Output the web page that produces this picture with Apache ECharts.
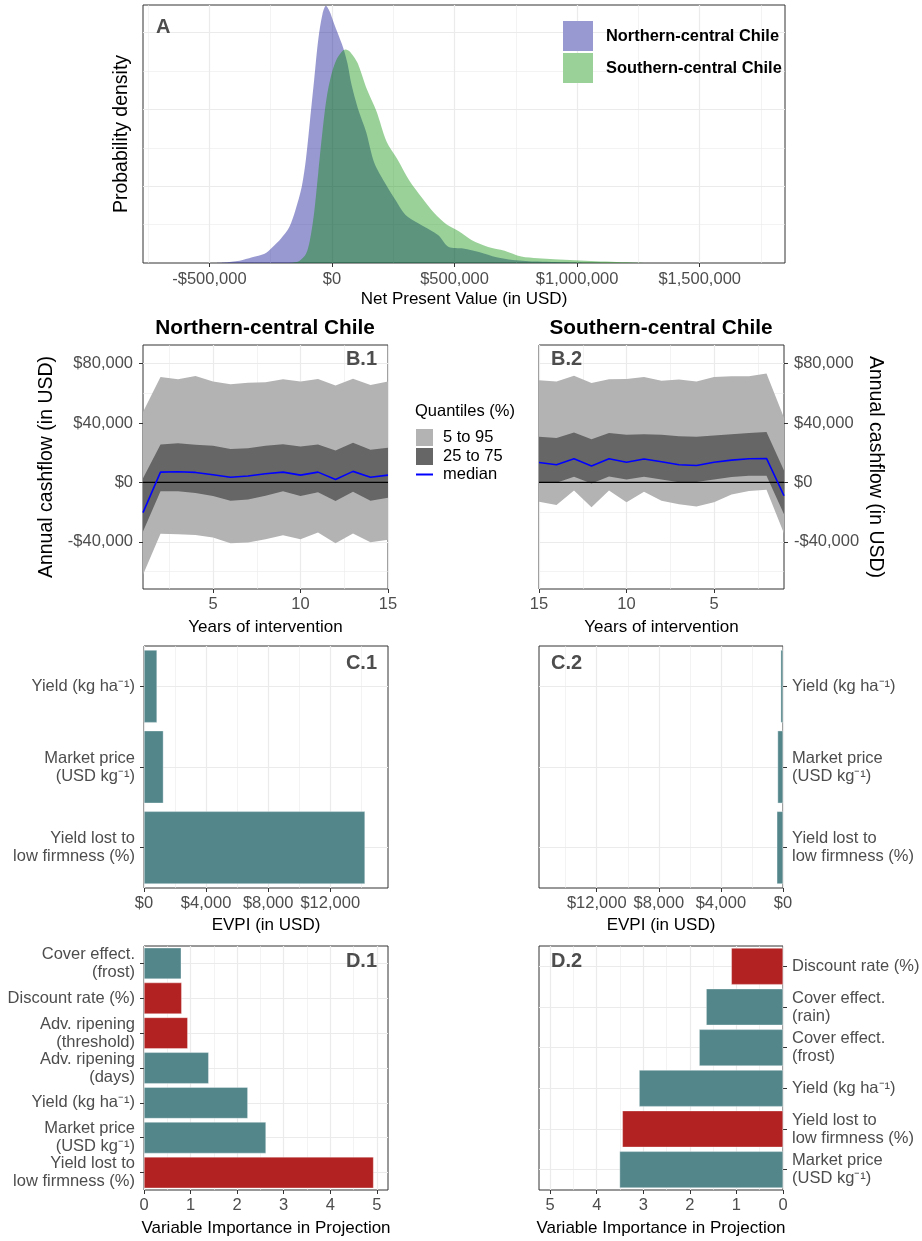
<!DOCTYPE html>
<html><head><meta charset="utf-8">
<script src="https://cdn.jsdelivr.net/npm/echarts@6/dist/echarts.min.js"></script>
<style>html,body{margin:0;padding:0;background:#fff}#c{width:922px;height:1241px}</style>
</head><body><div id="c"></div>
<script>
// ---------------- DATA ----------------
// Panel A: NPV density (x in USD, density in 1e-6 per USD)
const npvNorthX = [-470000,-444000,-377000,-326000,-275000,-242000,-208000,-174000,-149000,-123000,-106000,-90000,-73000,-56000,-39000,-25000,-10000,5000,20000,46000,63000,79000,105000,139000,172000,215000,257000,299000,350000,400000,434000,476000,535000,603000,671000,738000,840000,991000,1100000];
const npvNorthDens = [0,0.005,0.03,0.075,0.12,0.21,0.32,0.47,0.69,1.0,1.36,1.85,2.38,2.91,3.24,3.35,3.28,3.15,3.02,2.80,2.60,2.33,2.02,1.71,1.31,1.05,0.83,0.63,0.52,0.43,0.36,0.21,0.19,0.14,0.075,0.04,0.018,0.005,0];
const npvSouthX = [-170000,-157000,-132000,-106000,-90000,-73000,-56000,-39000,-22000,-2000,20000,46000,57000,79000,105000,139000,181000,223000,265000,316000,367000,417000,468000,519000,569000,637000,704000,772000,840000,907000,991000,1076000,1160000,1245000,1300000];
const npvSouthDens = [0,0.005,0.03,0.12,0.30,0.65,1.18,1.71,2.15,2.46,2.66,2.77,2.78,2.73,2.60,2.29,1.98,1.58,1.36,1.07,0.85,0.65,0.50,0.41,0.30,0.21,0.16,0.084,0.062,0.049,0.035,0.022,0.013,0.004,0];
const regionNames = ['Northern-central Chile','Southern-central Chile'];

// Panel B: annual cashflow quantiles by year of intervention
const years = [1,2,3,4,5,6,7,8,9,10,11,12,13,14,15];
const northP95 = [47400,70900,69400,71600,68000,66000,67100,67400,69400,68000,69600,65300,69800,65600,68000];
const northP75 = [2700,25500,26400,25300,24600,22400,23000,24600,25700,24200,25500,21500,26600,21900,23300];
const northMed = [-20400,6900,7200,6700,5100,3400,4300,5800,6900,4900,6900,2000,7400,3400,4900];
const northP25 = [-33100,-6000,-6000,-7200,-9200,-12300,-11600,-9000,-6000,-9200,-6700,-12500,-6300,-12300,-10300];
const northP5  = [-62200,-34600,-34900,-35400,-37200,-41000,-40500,-38300,-35600,-38300,-33800,-41000,-34500,-40300,-38700];
const southP95 = [43500,73300,71400,71400,70900,68000,69200,68500,70900,69600,69400,66900,71800,68000,68700];
const southP75 = [8000,33900,33300,32400,31600,30700,31100,32000,32400,32000,33300,29100,33600,29800,30700];
const southMed = [-9000,16100,15900,15000,13600,11400,11900,13900,15700,13600,15900,11000,15900,11900,13400];
const southP25 = [-21500,4500,4500,3600,2000,200,0,2000,3800,2000,4000,-700,3800,-200,0];
const southP5  = [-34500,-5000,-5800,-8100,-13400,-16300,-14800,-12300,-6300,-13400,-5400,-16800,-5400,-15200,-13000];
const quantileNames = ['5 to 95','25 to 75','median'];

// Panel C: EVPI (USD)
const evpiVars = ['Yield (kg ha\u207B\u00B9)','Market price\n(USD kg\u207B\u00B9)','Yield lost to\nlow firmness (%)'];
const evpiNorth = [840,1250,14240];
const evpiSouth = [150,350,400];

// Panel D: VIP scores and coefficient sign (+1 positive, -1 negative)
const vipNorthVars = ['Cover effect.\n(frost)','Discount rate (%)','Adv. ripening\n(threshold)','Adv. ripening\n(days)','Yield (kg ha\u207B\u00B9)','Market price\n(USD kg\u207B\u00B9)','Yield lost to\nlow firmness (%)'];
const vipNorth = [0.80,0.81,0.94,1.39,2.23,2.62,4.93];
const vipNorthSign = [1,-1,-1,1,1,1,-1];
const vipSouthVars = ['Discount rate (%)','Cover effect.\n(rain)','Cover effect.\n(frost)','Yield (kg ha\u207B\u00B9)','Yield lost to\nlow firmness (%)','Market price\n(USD kg\u207B\u00B9)'];
const vipSouth = [1.11,1.65,1.80,3.09,3.45,3.51];
const vipSouthSign = [-1,1,1,1,-1,1];

// Tick values
const npvTicks = [-500000,0,500000,1000000,1500000];
const npvMinor = [-750000,-250000,250000,750000,1250000,1750000];
const yearTicks = [5,10,15];
const yearMinor = [2.5,7.5,12.5];
const cashTicks = [-40000,0,40000,80000];
const cashMinor = [-60000,-20000,20000,60000];
const evpiTicks = [0,4000,8000,12000];
const evpiMinor = [2000,6000,10000,14000];
const vipTicks = [0,1,2,3,4,5];
const vipMinor = [0.5,1.5,2.5,3.5,4.5];
const densTicks = [1,2,3];
const densMinor = [0.5,1.5,2.5];

// ---------------- STYLE / HELPERS ----------------
const FONT = 'Liberation Sans, Arial, Helvetica, sans-serif';
const TICKC = '#4d4d4d';
const TEAL = '#53868b', RED = '#b22222';
const dollar = v => (v < 0 ? '-$' : '$') + Math.abs(v).toLocaleString('en-US');
const zip = (a, b) => a.map((v, i) => [v, b[i]]);
const xNameStyle = {color:'#000', fontSize:17, fontFamily:FONT};
const yNameStyle = {color:'#000', fontSize:19.5, fontFamily:FONT};

function valAxis(o) {
  return {
    type:'value', gridIndex:o.g, min:o.min, max:o.max, inverse:!!o.inverse, position:o.pos,
    axisLine:{show:false, onZero:false},
    axisTick:{show:o.ticks !== false, customValues:o.majors, length:4, lineStyle:{color:'#333', width:1}},
    axisLabel:{show:o.labels !== false, customValues:o.majors, formatter:o.fmt || (v => String(v)), margin:o.margin || 8,
      color:TICKC, fontSize:16.5, fontFamily:FONT},
    splitLine:{show:true, lineStyle:{color:'#ebebeb', width:1.2}},
    minorTick:{show:false}, minorSplitLine:{show:false},
    name:o.name, nameLocation:'middle', nameGap:o.nameGap, nameRotate:o.nameRotate,
    nameMoveOverlap:false, nameTextStyle:o.nameStyle || xNameStyle
  };
}
function minorAxis(g, min, max, inverse, pos, vals) {
  return {
    type:'value', gridIndex:g, min, max, inverse:!!inverse, position:pos,
    axisLine:{show:false, onZero:false},
    axisTick:{show:false, customValues:vals}, axisLabel:{show:false, customValues:vals},
    splitLine:{show:true, lineStyle:{color:'#ebebeb', width:0.6}}
  };
}
function catAxis(g, data, pos) {
  return {
    type:'category', gridIndex:g, data, inverse:true, position:pos,
    axisLine:{show:false, onZero:false},
    axisTick:{show:true, alignWithLabel:true, interval:0, length:4, lineStyle:{color:'#333', width:1}},
    axisLabel:{interval:0, color:TICKC, fontSize:16.5, lineHeight:18, fontFamily:FONT, margin:9,
      align: pos === 'left' ? 'right' : 'left'},
    splitLine:{show:true, alignWithLabel:true, interval:0, lineStyle:{color:'#ebebeb', width:1.2}}
  };
}
const gridBase = {show:true, borderColor:'#333', borderWidth:1, backgroundColor:'#fff', containLabel:false, outerBoundsMode:'none'};
const grids = [
  {left:143, top:5, width:642, height:258},
  {left:143, top:345, width:245, height:244},
  {left:539, top:345, width:245, height:244},
  {left:144, top:646, width:244, height:242},
  {left:539, top:646, width:244, height:242},
  {left:144, top:946, width:244, height:244},
  {left:539, top:946, width:244, height:244}
].map(g => Object.assign({}, gridBase, g));

const NPV_MIN = -771000, NPV_MAX = 1848000, DENS_MAX = 3.36;
const CASH_MIN = -71800, CASH_MAX = 92500;
const EVPI_MAX = 15720, VIP_MAX = 5.24;

const xAxes = [
  valAxis({g:0, min:NPV_MIN, max:NPV_MAX, pos:'bottom', majors:npvTicks, fmt:dollar, name:'Net Present Value (in USD)', nameGap:28}),
  minorAxis(0, NPV_MIN, NPV_MAX, false, 'top', npvMinor),
  valAxis({g:1, min:1, max:15, pos:'bottom', majors:yearTicks, name:'Years of intervention', nameGap:30, margin:7}),
  minorAxis(1, 1, 15, false, 'top', yearMinor),
  valAxis({g:2, min:1, max:15, inverse:true, pos:'bottom', majors:yearTicks, name:'Years of intervention', nameGap:30, margin:7}),
  minorAxis(2, 1, 15, true, 'top', yearMinor),
  valAxis({g:3, min:0, max:EVPI_MAX, pos:'bottom', majors:evpiTicks, fmt:dollar, name:'EVPI (in USD)', nameGap:29, margin:7}),
  minorAxis(3, 0, EVPI_MAX, false, 'top', evpiMinor),
  valAxis({g:4, min:0, max:EVPI_MAX, inverse:true, pos:'bottom', majors:evpiTicks, fmt:dollar, name:'EVPI (in USD)', nameGap:29, margin:7}),
  minorAxis(4, 0, EVPI_MAX, true, 'top', evpiMinor),
  valAxis({g:5, min:0, max:VIP_MAX, pos:'bottom', majors:vipTicks, name:'Variable Importance in Projection', nameGap:29.5, margin:7}),
  minorAxis(5, 0, VIP_MAX, false, 'top', vipMinor),
  valAxis({g:6, min:0, max:VIP_MAX, inverse:true, pos:'bottom', majors:vipTicks, name:'Variable Importance in Projection', nameGap:29.5, margin:7}),
  minorAxis(6, 0, VIP_MAX, true, 'top', vipMinor)
];
const yAxes = [
  valAxis({g:0, min:0, max:DENS_MAX, pos:'left', majors:densTicks, labels:false, ticks:false, name:'Probability density', nameGap:11, nameStyle:yNameStyle}),
  minorAxis(0, 0, DENS_MAX, false, 'right', densMinor),
  valAxis({g:1, min:CASH_MIN, max:CASH_MAX, pos:'left', majors:cashTicks, fmt:dollar, name:'Annual cashflow (in USD)', nameGap:86, margin:10, nameStyle:yNameStyle}),
  minorAxis(1, CASH_MIN, CASH_MAX, false, 'right', cashMinor),
  valAxis({g:2, min:CASH_MIN, max:CASH_MAX, pos:'right', majors:cashTicks, fmt:dollar, name:'Annual cashflow (in USD)', nameGap:81, nameRotate:-90, margin:10, nameStyle:yNameStyle}),
  minorAxis(2, CASH_MIN, CASH_MAX, false, 'left', cashMinor),
  catAxis(3, evpiVars, 'left'),
  catAxis(4, evpiVars, 'right'),
  catAxis(5, vipNorthVars, 'left'),
  catAxis(6, vipSouthVars, 'right')
];

// ---------------- SERIES ----------------
const series = [];
// Panel A densities
series.push({type:'line', name:regionNames[0], xAxisIndex:0, yAxisIndex:0, data:zip(npvNorthX, npvNorthDens),
  smooth:0.3, symbol:'none', lineStyle:{width:0}, color:'#9999d1', areaStyle:{color:'rgba(0,0,139,0.4)', opacity:1}, silent:true, z:2});
series.push({type:'line', name:regionNames[1], xAxisIndex:0, yAxisIndex:0, data:zip(npvSouthX, npvSouthDens),
  smooth:0.3, symbol:'none', lineStyle:{width:0}, color:'#99d199', areaStyle:{color:'rgba(0,139,0,0.4)', opacity:1}, silent:true, z:3});

// Quantile ribbon drawn as one polygon through the axis scales
function band(xi, yi, lower, upper, name, color) {
  series.push({type:'custom', name, coordinateSystem:'cartesian2d', xAxisIndex:xi, yAxisIndex:yi,
    data:years.map((y, i) => [y, lower[i], upper[i]]), encode:{x:0, y:[1, 2]},
    color, itemStyle:{color}, silent:true, z:2, clip:true,
    renderItem:(params, api) => {
      if (params.dataIndex !== 0) return null;
      const pts = [];
      for (let i = 0; i < years.length; i++) pts.push(api.coord([years[i], upper[i]]));
      for (let i = years.length - 1; i >= 0; i--) pts.push(api.coord([years[i], lower[i]]));
      return {type:'polygon', shape:{points:pts}, style:{fill:color}};
    }});
}
function cashPanel(xi, yi, p5, p25, med, p75, p95, tag) {
  band(xi, yi, p5, p95, quantileNames[0], '#b3b3b3');
  band(xi, yi, p25, p75, quantileNames[1], '#666666');
  series.push({type:'line', name:tag + '_zero', xAxisIndex:xi, yAxisIndex:yi,
    data:[[years[0], 0], [years[years.length - 1], 0]], symbol:'none', lineStyle:{color:'#000', width:1.3}, silent:true, z:3});
  series.push({type:'line', name:quantileNames[2], xAxisIndex:xi, yAxisIndex:yi, data:zip(years, med),
    symbol:'none', color:'#0000ff', lineStyle:{color:'#0000ff', width:1.6}, silent:true, z:4});
}
cashPanel(2, 2, northP5, northP25, northMed, northP75, northP95, 'N');
cashPanel(4, 4, southP5, southP25, southMed, southP75, southP95, 'S');

const barBase = {type:'bar', barCategoryGap:'10%', silent:true,
  itemStyle:{color:TEAL, borderColor:'rgba(255,255,255,0.7)', borderWidth:0.5}};
series.push(Object.assign({}, barBase, {xAxisIndex:6, yAxisIndex:6, data:evpiNorth}));
series.push(Object.assign({}, barBase, {xAxisIndex:8, yAxisIndex:7, data:evpiSouth}));
const colorBySign = (vals, signs) => vals.map((v, i) => ({value:v, itemStyle:{color: signs[i] < 0 ? RED : TEAL}}));
series.push(Object.assign({}, barBase, {xAxisIndex:10, yAxisIndex:8, data:colorBySign(vipNorth, vipNorthSign)}));
series.push(Object.assign({}, barBase, {xAxisIndex:12, yAxisIndex:9, data:colorBySign(vipSouth, vipSouthSign)}));

// ---------------- LEGENDS / TEXT ----------------
const legends = [
  {orient:'vertical', left:563, top:21, padding:0, itemWidth:30, itemHeight:30, itemGap:2, selectedMode:false,
   data:[{name:regionNames[0], icon:'rect', itemStyle:{color:'#9999d1', borderWidth:0}},
         {name:regionNames[1], icon:'rect', itemStyle:{color:'#99d199', borderWidth:0}}],
   textStyle:{fontSize:16.4, fontWeight:'bold', color:'#000', fontFamily:FONT, padding:[0,0,0,8]}},
  {orient:'vertical', left:416, top:429, padding:0, itemWidth:17, itemHeight:17, itemGap:2, selectedMode:false,
   data:[{name:quantileNames[0], icon:'rect', itemStyle:{color:'#b3b3b3', borderWidth:0}},
         {name:quantileNames[1], icon:'rect', itemStyle:{color:'#666666', borderWidth:0}}],
   textStyle:{fontSize:16.5, color:'#000', fontFamily:FONT, padding:[0,0,0,5]}},
  {orient:'vertical', left:416, top:466, padding:0, itemWidth:17, itemHeight:2, selectedMode:false,
   data:[{name:quantileNames[2], icon:'rect', itemStyle:{color:'#0000ff', borderWidth:0}}],
   textStyle:{fontSize:16.5, color:'#000', fontFamily:FONT, padding:[0,0,0,5]}}
];
function txt(t, x, y, opts) {
  return {type:'text', x, y, silent:true, z:100, style:Object.assign({text:t, fill:'#4d4d4d',
    font:'bold 20px ' + FONT, align:'left', verticalAlign:'middle', textAlign:'left', textVerticalAlign:'middle'}, opts || {})};
}
const graphics = [
  txt('A', 156, 27),
  txt('B.1', 377, 359, {align:'right', textAlign:'right'}),
  txt('B.2', 551, 359),
  txt('C.1', 377, 663, {align:'right', textAlign:'right'}),
  txt('C.2', 551, 663),
  txt('D.1', 377, 961, {align:'right', textAlign:'right'}),
  txt('D.2', 551, 961),
  txt(regionNames[0], 265, 328, {fill:'#000', font:'bold 20.8px ' + FONT, align:'center', textAlign:'center'}),
  txt(regionNames[1], 661, 328, {fill:'#000', font:'bold 20.8px ' + FONT, align:'center', textAlign:'center'}),
  txt('Quantiles (%)', 415, 411, {fill:'#000', font:'16.5px ' + FONT})
];

const chart = echarts.init(document.getElementById('c'), null, {renderer:'canvas'});
chart.setOption({
  backgroundColor:'#fff', animation:false, textStyle:{fontFamily:FONT},
  grid:grids, xAxis:xAxes, yAxis:yAxes, series, legend:legends, graphic:graphics
});
</script></body></html>
